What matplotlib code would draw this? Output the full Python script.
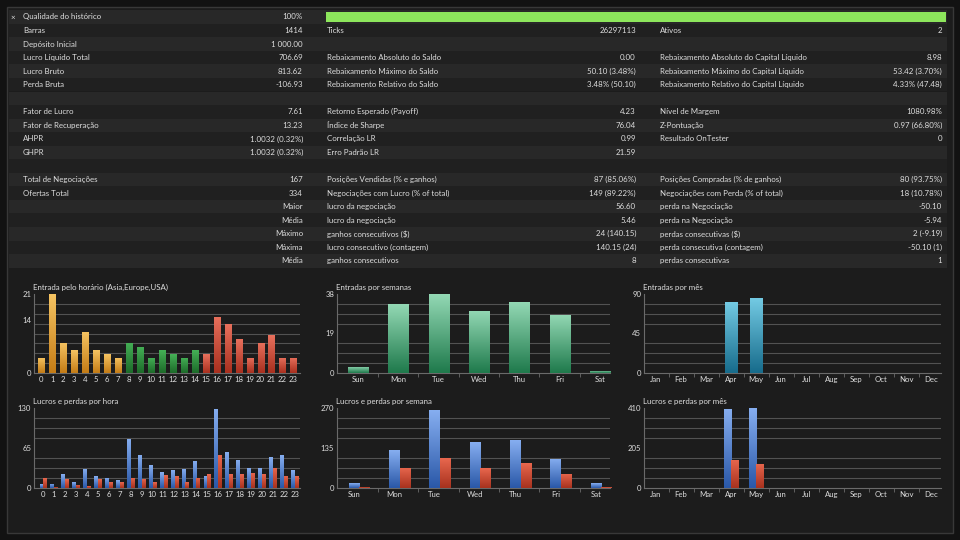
import numpy as np
import matplotlib
matplotlib.use("Agg")
import matplotlib.pyplot as plt
from matplotlib.colors import LinearSegmentedColormap
from matplotlib.patches import Rectangle
from matplotlib.ticker import FixedLocator

plt.rcParams['font.family'] = ['Lato', 'DejaVu Sans']

# ---- report table (three column groups) ----
col1_labels = ["Qualidade do histórico", "Barras", "Depósito Inicial", "Lucro Líquido Total",
               "Lucro Bruto", "Perda Bruta", "", "Fator de Lucro", "Fator de Recuperação",
               "AHPR", "GHPR", "", "Total de Negociações", "Ofertas Total",
               "", "", "", "", ""]
col1_values = ["100%", "1414", "1 000.00", "706.69", "813.62", "-106.93", "", "7.61", "13.23",
               "1.0032 (0.32%)", "1.0032 (0.32%)", "", "167", "334",
               "Maior", "Média", "Máximo", "Máxima", "Média"]
col2_labels = ["", "Ticks", "", "Rebaixamento Absoluto do Saldo", "Rebaixamento Máximo do Saldo",
               "Rebaixamento Relativo do Saldo", "", "Retorno Esperado (Payoff)", "Índice de Sharpe",
               "Correlação LR", "Erro Padrão LR", "", "Posições Vendidas (% e ganhos)",
               "Negociações com Lucro (% of total)", "lucro da negociação", "lucro da negociação",
               "ganhos consecutivos ($)", "lucro consecutivo (contagem)", "ganhos consecutivos"]
col2_values = ["", "26297113", "", "0.00", "50.10 (3.48%)", "3.48% (50.10)", "", "4.23", "76.04",
               "0.99", "21.59", "", "87 (85.06%)", "149 (89.22%)", "56.60", "5.46",
               "24 (140.15)", "140.15 (24)", "8"]
col3_labels = ["", "Ativos", "", "Rebaixamento Absoluto do Capital Líquido",
               "Rebaixamento Máximo do Capital Líquido", "Rebaixamento Relativo do Capital Líquido",
               "", "Nível de Margem", "Z-Pontuação", "Resultado OnTester", "", "",
               "Posições Compradas (% de ganhos)", "Negociações com Perda (% of total)",
               "perda na Negociação", "perda na Negociação", "perdas consecutivas ($)",
               "perda consecutiva (contagem)", "perdas consecutivas"]
col3_values = ["", "2", "", "8.98", "53.42 (3.70%)", "4.33% (47.48)", "", "1080.98%",
               "0.97 (66.80%)", "0", "", "", "80 (93.75%)", "18 (10.78%)", "-50.10", "-5.94",
               "2 (-9.19)", "-50.10 (1)", "1"]
history_quality = 100

# ---- charts ----
hours = [str(h) for h in range(24)]
entries_hour = [4, 21, 8, 6, 11, 6, 5, 4, 8, 7, 4, 6, 5, 4, 6, 5, 15, 13, 9, 4, 8, 10, 4, 4]
profit_hour = [6, 7, 22, 9, 31, 19, 17, 13, 80, 54, 37, 26, 29, 31, 44, 20, 129, 58, 46, 33, 33, 50, 53, 29]
loss_hour = [16, 2, 14, 5, 3, 14, 9, 9, 17, 15, 9, 21, 19, 9, 17, 22, 53, 22, 22, 25, 22, 33, 20, 19]

days = ["Sun", "Mon", "Tue", "Wed", "Thu", "Fri", "Sat"]
entries_day = [3, 33, 38, 30, 34, 28, 1]
profit_day = [16, 127, 262, 154, 162, 99, 16]
loss_day = [4, 69, 101, 67, 84, 48, 3]

months = ["Jan", "Feb", "Mar", "Apr", "May", "Jun", "Jul", "Aug", "Sep", "Oct", "Nov", "Dec"]
entries_month = [0, 0, 0, 81, 86, 0, 0, 0, 0, 0, 0, 0]
profit_month = [0, 0, 0, 405, 409, 0, 0, 0, 0, 0, 0, 0]
loss_month = [0, 0, 0, 145, 124, 0, 0, 0, 0, 0, 0, 0]

W, H = 960, 540
TXT = '#dedede'
fig = plt.figure(figsize=(W / 100, H / 100), dpi=100, facecolor='#121212')
bg = fig.add_axes([0, 0, 1, 1])
bg.set_xlim(0, W)
bg.set_ylim(H, 0)
bg.axis('off')
bg.add_patch(Rectangle((7, 7), 946, 526, facecolor='#1c1c1c', edgecolor='#383838', lw=1))

row_h = 13.55
row_top = 10.2
fs = 5.7
for i in range(len(col1_labels)):
    y0 = row_top + i * row_h
    bg.add_patch(Rectangle((9, y0), 938, row_h, lw=0,
                           facecolor='#282828' if i % 2 == 0 else '#202020'))
    yc = y0 + row_h / 2
    for lab, val, xl, xr in [(col1_labels[i], col1_values[i], 23, 303),
                             (col2_labels[i], col2_values[i], 327, 636),
                             (col3_labels[i], col3_values[i], 660, 942)]:
        if lab:
            bg.text(xl, yc, lab, color=TXT, fontsize=fs, va='center', ha='left')
        if val:
            bg.text(xr, yc, val, color=TXT, fontsize=fs, va='center', ha='right')

bg.text(13, row_top + row_h / 2, "×", color=TXT, fontsize=fs, va='center', ha='center')
bg.add_patch(Rectangle((326, 12), 620 * history_quality / 100, 9.5, lw=0, facecolor='#8de65c'))


def px_axes(l, t, r, b):
    return fig.add_axes([l / W, 1 - b / H, (r - l) / W, (b - t) / H])


def shade(ax, bars, c_top, c_bot):
    cmap = LinearSegmentedColormap.from_list('g', [c_bot, c_top])
    grad = np.linspace(0, 1, 64).reshape(-1, 1)
    for b in bars:
        b.set_facecolor(c_bot)
        h = b.get_height()
        if h <= 0:
            continue
        x, w = b.get_x(), b.get_width()
        im = ax.imshow(grad, cmap=cmap, origin='lower', aspect='auto', interpolation='bilinear',
                       extent=(x, x + w, 0, h), zorder=3)
        im.set_clip_path(b)


def style(ax, title, ymax, ylabels, xlim, ticks, ticklabels, dividers=None):
    ax.set_facecolor('none')
    ax.set_xlim(*xlim)
    ax.set_ylim(0, ymax)
    ax.yaxis.set_minor_locator(FixedLocator(np.linspace(0, ymax, 9)))
    ax.grid(which='minor', axis='y', color='#525252', lw=0.8)
    ax.set_yticks([0, ylabels[1], ymax])
    ax.set_yticklabels([str(v) for v in ylabels])
    ax.set_xticks(ticks)
    ax.set_xticklabels(ticklabels)
    ax.tick_params(which='both', length=0, colors=TXT, labelsize=5.6, pad=2)
    if dividers is not None:
        ax.set_xticks(dividers, minor=True)
        ax.tick_params(axis='x', which='minor', length=3, color='#6a6a6a', direction='out')
    for s in ['top', 'right']:
        ax.spines[s].set_visible(False)
    for s in ['left', 'bottom']:
        ax.spines[s].set_color('#6a6a6a')
        ax.spines[s].set_linewidth(0.8)
    ax.set_title(title, loc='left', color=TXT, fontsize=5.7, pad=3, x=-0.005)


ORANGE = ('#f6c462', '#c47c16')
GREEN = ('#45b056', '#1d6b2a')
RED = ('#e8705c', '#a9301f')
BLUE = ('#86aef0', '#2a58a8')
LRED = ('#e8674e', '#a8321e')

# entries per hour
xh = np.arange(24)
ax1 = px_axes(34, 294, 300, 373)
b = ax1.bar(xh, entries_hour, width=0.55, zorder=3)
shade(ax1, b[:8], *ORANGE)
shade(ax1, b[8:15], *GREEN)
shade(ax1, b[15:], *RED)
style(ax1, "Entrada pelo horário (Asia,Europe,USA)", 21, [0, 14, 21], (-0.66, 23.6), xh, hours)

# entries per weekday
xd = np.arange(7)
ax2 = px_axes(337, 294, 610, 373)
b = ax2.bar(xd, entries_day, width=0.5, zorder=3)
shade(ax2, b, '#93d8b4', '#1f7a4c')
style(ax2, "Entradas por semanas", 38, [0, 19, 38], (-0.52, 6.25), xd, days, xd[:-1] + 0.5)

# entries per month
xm = np.arange(12)
ax3 = px_axes(644, 294, 941, 373)
b = ax3.bar(xm, entries_month, width=0.5, zorder=3)
shade(ax3, b, '#74cbe4', '#176c8c')
style(ax3, "Entradas por mês", 90, [0, 45, 90], (-0.48, 11.38), xm, months, xm[:-1] + 0.5)

# profit/loss per hour
ax4 = px_axes(34, 408, 300, 488)
b1 = ax4.bar(xh, profit_hour, width=0.35, zorder=3)
b2 = ax4.bar(xh + 0.35, loss_hour, width=0.35, zorder=3)
shade(ax4, b1, *BLUE)
shade(ax4, b2, *LRED)
style(ax4, "Lucros e perdas por hora", 130, [0, 65, 130], (-0.68, 23.65), xh + 0.15, hours)

# profit/loss per weekday
ax5 = px_axes(337, 408, 610, 488)
b1 = ax5.bar(xd, profit_day, width=0.265, zorder=3)
b2 = ax5.bar(xd + 0.265, loss_day, width=0.265, zorder=3)
shade(ax5, b1, *BLUE)
shade(ax5, b2, *LRED)
style(ax5, "Lucros e perdas por semana", 270, [0, 135, 270], (-0.42, 6.35), xd, days, xd[:-1] + 0.6)

# profit/loss per month
ax6 = px_axes(644, 408, 941, 488)
b1 = ax6.bar(xm - 0.14, profit_month, width=0.28, zorder=3)
b2 = ax6.bar(xm + 0.14, loss_month, width=0.28, zorder=3)
shade(ax6, b1, *BLUE)
shade(ax6, b2, *LRED)
style(ax6, "Lucros e perdas por mês", 410, [0, 205, 410], (-0.48, 11.38), xm, months, xm[:-1] + 0.5)

fig.savefig("out.png", dpi=100, facecolor=fig.get_facecolor())
